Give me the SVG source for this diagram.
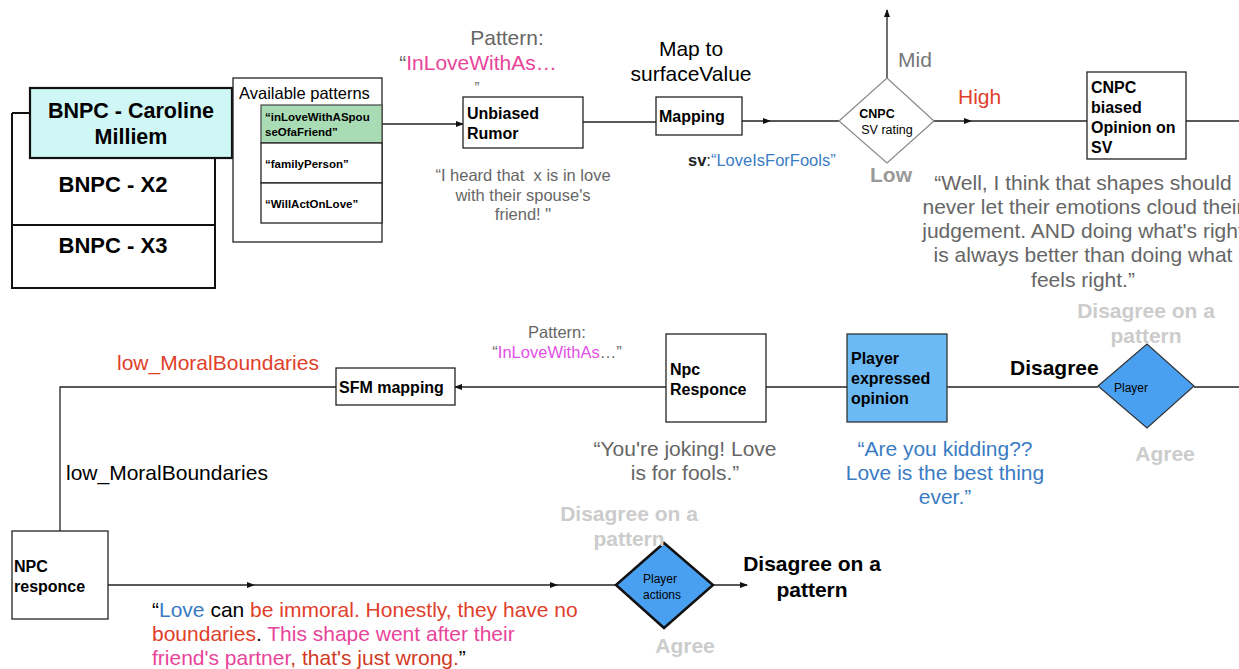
<svg xmlns="http://www.w3.org/2000/svg" width="1239" height="669" viewBox="0 0 1239 669">
<defs>
<style>
text{font-family:"Liberation Sans",Arial,sans-serif;}
.box{fill:#fff;stroke:#222;stroke-width:1.3;}
.lbl{font-size:16px;font-weight:bold;fill:#000;}
.sm{font-size:11.5px;font-weight:bold;fill:#000;}
.big{font-size:21px;}
.gray{fill:#666;}
.lg{fill:#ccc;font-weight:bold;}
.line{stroke:#222;stroke-width:1.3;fill:none;}
.blue{fill:#3a7cc4;}
.red{fill:#e0402a;}
.pink{fill:#e8449a;}
</style>
<marker id="ah" markerWidth="8" markerHeight="8" refX="7" refY="4" orient="auto" markerUnits="userSpaceOnUse">
<path d="M0,1 L8,4 L0,7 Z" fill="#111"/>
</marker>
<marker id="mid" markerWidth="8" markerHeight="8" refX="4" refY="4" orient="auto" markerUnits="userSpaceOnUse">
<path d="M0,1 L8,4 L0,7 Z" fill="#111"/>
</marker>
</defs>
<rect width="1239" height="669" fill="#fff"/>

<g id="connectors">
<line class="line" x1="382" y1="124" x2="463" y2="124" marker-end="url(#ah)"/>
<line class="line" x1="583" y1="122" x2="656" y2="122"/>
<polyline class="line" points="742,121 767,121 839,121" marker-mid="url(#mid)"/>
<line class="line" x1="887" y1="78" x2="887" y2="10" marker-end="url(#ah)"/>
<polyline class="line" points="934,121 968,121 1087,121" marker-mid="url(#mid)"/>
<line class="line" x1="1186" y1="121" x2="1239" y2="121"/>
<line class="line" x1="666" y1="387" x2="455" y2="387" marker-end="url(#ah)"/>
<polyline class="line" points="336,387 60,387 60,531"/>
<line class="line" x1="766" y1="387" x2="847" y2="387"/>
<line class="line" x1="947" y1="387" x2="1098" y2="387"/>
<line class="line" x1="1194" y1="387" x2="1239" y2="387"/>
<polyline class="line" points="108,585 251,585 554,585 616,585" marker-mid="url(#mid)"/>
<line class="line" x1="713" y1="585" x2="747" y2="585" marker-end="url(#ah)"/>
</g>

<g id="bnpc-stack">
<path d="M12,113 L30,113 M12,113 L12,288 L215,288 L215,158 M12,225 L215,225" fill="none" stroke="#111" stroke-width="2"/>
<text x="113" y="192" text-anchor="middle" style="font-size:22px;font-weight:bold">BNPC - X2</text>
<text x="113" y="253" text-anchor="middle" style="font-size:22px;font-weight:bold">BNPC - X3</text>
</g>

<g id="bnpc-caroline">
<rect x="30" y="88" width="202" height="70" fill="#cff7f5" stroke="#111" stroke-width="2.2"/>
<text x="131" y="118" text-anchor="middle" style="font-size:21.5px;font-weight:bold">BNPC - Caroline</text>
<text x="131" y="144" text-anchor="middle" style="font-size:21.5px;font-weight:bold">Milliem</text>
</g>

<g id="available-patterns">
<rect x="233" y="78" width="149" height="164" class="box" stroke="#444"/>
<text x="239" y="99" style="font-size:16.5px" fill="#000">Available patterns</text>
<rect x="261" y="105" width="121" height="38" fill="#a9dcb5" stroke="#444" stroke-width="1.2"/>
<text x="265" y="121" class="sm">“inLoveWithASpou</text>
<text x="265" y="136" class="sm">seOfaFriend”</text>
<rect x="261" y="143" width="121" height="40" class="box" stroke="#444"/>
<text x="265" y="168" class="sm">“familyPerson”</text>
<rect x="261" y="183" width="121" height="40" class="box" stroke="#444"/>
<text x="265" y="208" class="sm">“WillActOnLove”</text>
</g>

<g id="unbiased-rumor">
<text x="507" y="45" text-anchor="middle" class="big gray">Pattern:</text>
<text x="478" y="70" text-anchor="middle" class="big"><tspan class="gray">“</tspan><tspan class="pink">InLoveWithAs…</tspan></text>
<text x="477" y="92" text-anchor="middle" class="gray" style="font-size:15px">”</text>
<rect x="463" y="97" width="120" height="51" class="box"/>
<text x="467" y="119" class="lbl">Unbiased</text>
<text x="467" y="139" class="lbl">Rumor</text>
<text x="523" y="181" text-anchor="middle" class="gray" style="font-size:16.5px" xml:space="preserve">“I heard that  x is in love</text>
<text x="523" y="201" text-anchor="middle" class="gray" style="font-size:16.5px">with their spouse's</text>
<text x="523" y="220" text-anchor="middle" class="gray" style="font-size:16.5px">friend! "</text>
</g>

<g id="mapping">
<text x="691" y="56" text-anchor="middle" class="big">Map to</text>
<text x="691" y="81" text-anchor="middle" class="big">surfaceValue</text>
<rect x="656" y="97" width="86" height="38" class="box"/>
<text x="659" y="122" class="lbl">Mapping</text>
<text x="688" y="166" style="font-size:16.5px"><tspan font-weight="bold" fill="#222">sv</tspan><tspan fill="#222">:</tspan><tspan class="blue">“LoveIsForFools”</tspan></text>
</g>

<g id="cnpc-sv-rating">
<polygon points="839,121 887,78 934,121 887,163" fill="#fff" stroke="#888" stroke-width="1.2"/>
<text x="877" y="118" text-anchor="middle" style="font-size:12.5px;font-weight:bold">CNPC</text>
<text x="887" y="134" text-anchor="middle" style="font-size:12.5px">SV rating</text>
<text x="898" y="67" class="big" fill="#777">Mid</text>
<text x="958" y="104" class="big red">High</text>
<text x="870" y="182" class="big" fill="#999" font-weight="bold">Low</text>
</g>

<g id="cnpc-biased-opinion">
<rect x="1087" y="72" width="99" height="87" class="box"/>
<text x="1091" y="93" class="lbl">CNPC</text>
<text x="1091" y="113" class="lbl">biased</text>
<text x="1091" y="133" class="lbl">Opinion on</text>
<text x="1091" y="153" class="lbl">SV</text>
<g class="gray" style="font-size:21px" text-anchor="middle">
<text x="1083" y="190">“Well, I think that shapes should</text>
<text x="1083" y="214">never let their emotions cloud their</text>
<text x="1083" y="238">judgement. AND doing what's right</text>
<text x="1083" y="262">is always better than doing what</text>
<text x="1083" y="287">feels right.”</text>
</g>
</g>

<g id="sfm-mapping">
<text x="117" y="370" class="big red">low_MoralBoundaries</text>
<rect x="336" y="368" width="119" height="37" class="box"/>
<text x="339" y="393" class="lbl">SFM mapping</text>
<text x="66" y="480" class="big">low_MoralBoundaries</text>
</g>

<g id="npc-responce">
<text x="557" y="338" text-anchor="middle" class="gray" style="font-size:16.5px">Pattern:</text>
<text x="557" y="358" text-anchor="middle" style="font-size:16.5px"><tspan class="gray">“</tspan><tspan fill="#e24fe4">InLoveWithAs</tspan><tspan class="gray">…”</tspan></text>
<rect x="666" y="334" width="100" height="88" class="box"/>
<text x="670" y="375" class="lbl">Npc</text>
<text x="670" y="395" class="lbl">Responce</text>
<text x="685" y="456" text-anchor="middle" class="big gray">“You're joking! Love</text>
<text x="685" y="480" text-anchor="middle" class="big gray">is for fools.”</text>
</g>

<g id="player-opinion">
<rect x="847" y="334" width="100" height="88" fill="#6bb9f5" stroke="#333" stroke-width="1.3"/>
<text x="851" y="364" class="lbl">Player</text>
<text x="851" y="384" class="lbl">expressed</text>
<text x="851" y="404" class="lbl">opinion</text>
<text x="945" y="456" text-anchor="middle" class="big blue">“Are you kidding??</text>
<text x="945" y="480" text-anchor="middle" class="big blue">Love is the best thing</text>
<text x="945" y="504" text-anchor="middle" class="big blue">ever.”</text>
<text x="1010" y="375" class="big" font-weight="bold">Disagree</text>
</g>

<g id="player-decision">
<polygon points="1098,386 1147,344 1194,386 1147,428" fill="#4aa0f0" stroke="#333" stroke-width="1.2"/>
<text x="1131" y="392" text-anchor="middle" style="font-size:12px">Player</text>
<text x="1146" y="318" text-anchor="middle" class="big lg">Disagree on a</text>
<text x="1146" y="343" text-anchor="middle" class="big lg">pattern</text>
<text x="1165" y="461" text-anchor="middle" class="big lg">Agree</text>
</g>

<g id="npc-responce-2">
<rect x="12" y="531" width="96" height="88" class="box"/>
<text x="14" y="572" class="lbl">NPC</text>
<text x="14" y="592" class="lbl">responce</text>
<text x="152" y="617" class="big"><tspan>“</tspan><tspan class="blue">Love</tspan><tspan> can </tspan><tspan class="red">be immoral. Honestly, they have no</tspan></text>
<text x="152" y="641" class="big"><tspan class="red">boundaries</tspan><tspan>. </tspan><tspan class="pink">This shape went after their</tspan></text>
<text x="152" y="665" class="big"><tspan class="pink">friend's partner</tspan><tspan fill="#d23a25">, that's just wrong.</tspan><tspan>”</tspan></text>
</g>

<g id="player-actions">
<polygon points="616,585 664,543 713,585 664,628" fill="#4aa0f0" stroke="#111" stroke-width="2.5"/>
<text x="660" y="583" text-anchor="middle" style="font-size:12px">Player</text>
<text x="662" y="599" text-anchor="middle" style="font-size:12px">actions</text>
<text x="629" y="521" text-anchor="middle" class="big lg">Disagree on a</text>
<text x="629" y="546" text-anchor="middle" class="big lg">pattern</text>
<text x="685" y="653" text-anchor="middle" class="big lg">Agree</text>
<text x="812" y="571" text-anchor="middle" class="big" font-weight="bold">Disagree on a</text>
<text x="812" y="597" text-anchor="middle" class="big" font-weight="bold">pattern</text>
</g>
</svg>
